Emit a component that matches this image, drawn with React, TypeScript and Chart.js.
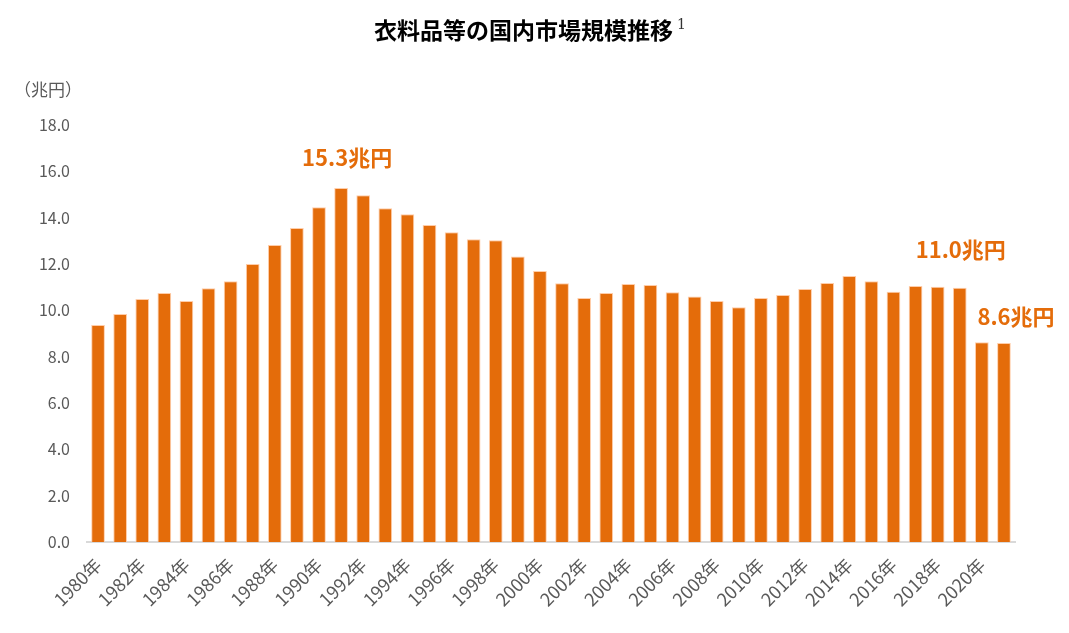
import React, { useEffect, useRef } from "react";
import { Chart, registerables } from "chart.js";

Chart.register(...registerables);

const years: string[] = [
  "1980年","1981年","1982年","1983年","1984年","1985年","1986年","1987年","1988年","1989年",
  "1990年","1991年","1992年","1993年","1994年","1995年","1996年","1997年","1998年","1999年",
  "2000年","2001年","2002年","2003年","2004年","2005年","2006年","2007年","2008年","2009年",
  "2010年","2011年","2012年","2013年","2014年","2015年","2016年","2017年","2018年","2019年",
  "2020年","2021年",
];

const marketSize: number[] = [
  9.37, 9.84, 10.49, 10.75, 10.4, 10.95, 11.26, 12.0, 12.82, 13.55,
  14.45, 15.28, 14.97, 14.41, 14.15, 13.68, 13.37, 13.07, 13.02, 12.32,
  11.7, 11.17, 10.53, 10.75, 11.14, 11.09, 10.78, 10.6, 10.4, 10.13,
  10.53, 10.66, 10.92, 11.18, 11.48, 11.26, 10.8, 11.05, 11.02, 10.97,
  8.62, 8.59,
];

const yTicks: number[] = [0, 2, 4, 6, 8, 10, 12, 14, 16, 18];

const annotIndex: number[] = [11, 39, 41];
const annotText: string[] = ["15.3兆円", "11.0兆円", "8.6兆円"];

const title = "衣料品等の国内市場規模推移";
const titleNote = "1";
const unitLabel = "（兆円）";

const ORANGE = "#E46C0A";
const GRAY = "#595959";
const JP = "'Noto Sans CJK JP', 'Noto Sans', sans-serif";

export default function App() {
  const ref = useRef<HTMLCanvasElement | null>(null);

  useEffect(() => {
    if (!ref.current) return;
    const annotDx = [6, 1, 12];
    const annotDy = [30, 38, 26];
    const overlay = {
      id: "overlay",
      afterDraw(chart: any) {
        const ctx = chart.ctx;
        const xs = chart.scales.x;
        const ys = chart.scales.y;
        ctx.save();
        // title
        ctx.textBaseline = "middle";
        ctx.font = `bold 23px ${JP}`;
        const tw = ctx.measureText(title).width;
        ctx.font = `14px 'DejaVu Serif', serif`;
        const nw = ctx.measureText(titleNote).width;
        const startX = 530 - (tw + nw + 4) / 2;
        ctx.font = `bold 23px ${JP}`;
        ctx.fillStyle = "#000";
        ctx.textAlign = "left";
        ctx.fillText(title, startX, 30);
        ctx.font = `14px 'DejaVu Serif', serif`;
        ctx.fillStyle = "#333";
        ctx.fillText(titleNote, startX + tw + 4, 25);
        // unit
        ctx.font = `17px ${JP}`;
        ctx.fillStyle = GRAY;
        ctx.textAlign = "left";
        ctx.fillText(unitLabel, 14, 90);
        // annotations
        ctx.font = `bold 22px ${JP}`;
        ctx.fillStyle = ORANGE;
        ctx.textAlign = "center";
        annotIndex.forEach((idx, i) => {
          const x = xs.getPixelForValue(idx) + annotDx[i];
          const y = ys.getPixelForValue(marketSize[idx]) - annotDy[i];
          ctx.fillText(annotText[i], x, y);
        });
        ctx.restore();
      },
    };

    const chart = new Chart(ref.current, {
      type: "bar",
      data: {
        labels: years,
        datasets: [
          {
            data: marketSize,
            backgroundColor: ORANGE,
            borderColor: "rgba(255,200,160,0.9)",
            borderWidth: { left: 1, right: 1, top: 1, bottom: 0 },
            barPercentage: 0.62,
            categoryPercentage: 1.0,
          },
        ],
      },
      options: {
        responsive: false,
        animation: false,
        devicePixelRatio: 1,
        layout: { padding: { top: 125, right: 54, left: 0, bottom: 0 } },
        plugins: {
          legend: { display: false },
          title: { display: false },
          tooltip: { enabled: false },
        },
        scales: {
          x: {
            grid: { display: false, drawTicks: false },
            border: { display: true, color: "#D9D9D9", width: 2 },
            ticks: {
              autoSkip: false,
              maxRotation: 45,
              minRotation: 45,
              padding: 12,
              color: GRAY,
              font: { family: JP, size: 18 },
              callback: (_v: any, i: number) => (i % 2 === 0 ? years[i] : ""),
            },
            afterFit: (s: any) => {
              s.height = 91;
            },
          },
          y: {
            min: 0,
            max: 18,
            afterBuildTicks: (s: any) => {
              s.ticks = yTicks.map((v) => ({ value: v }));
            },
            grid: { display: false, drawTicks: false },
            border: { display: false },
            ticks: {
              padding: 17,
              color: GRAY,
              font: { family: JP, size: 16 },
              callback: (v: any) => Number(v).toFixed(1),
            },
            afterFit: (s: any) => {
              s.width = 87;
            },
          },
        },
      },
      plugins: [overlay],
    });
    return () => chart.destroy();
  }, []);

  return (
    <div style={{ position: "absolute", left: 0, top: 0, width: 1069, height: 633, background: "#fff" }}>
      <canvas ref={ref} width={1069} height={633} style={{ display: "block" }} />
    </div>
  );
}
